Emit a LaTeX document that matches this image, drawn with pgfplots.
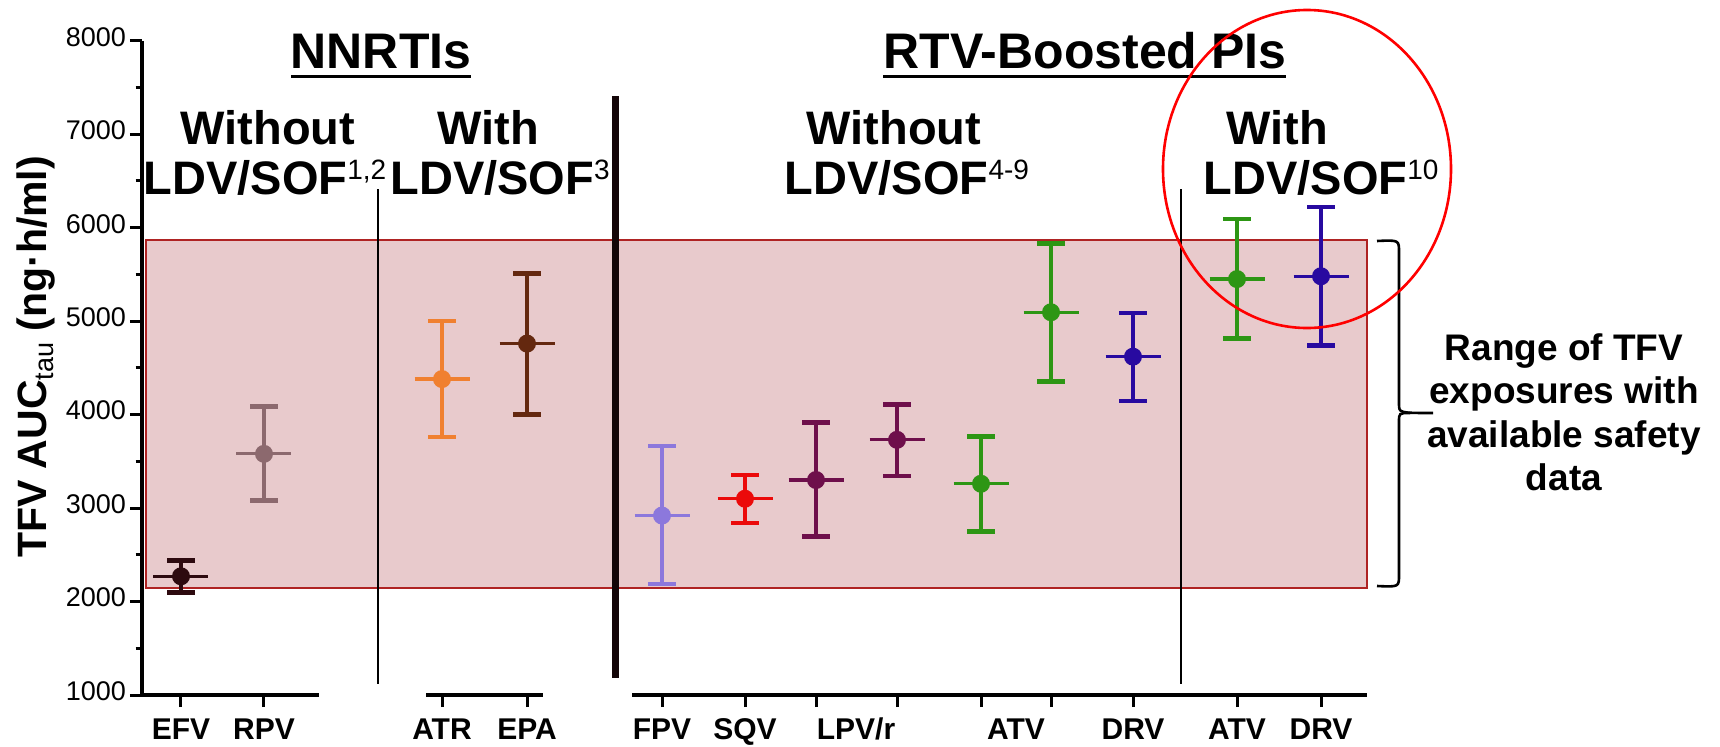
\documentclass[border=0pt]{standalone}
\usepackage{fontspec}
\setmainfont{Liberation Sans}
\usepackage{pgfplots}
\pgfplotsset{compat=1.18}

\definecolor{cEFV}{RGB}{45,10,15}
\definecolor{cRPV}{RGB}{140,105,110}
\definecolor{cATR}{RGB}{240,128,48}
\definecolor{cEPA}{RGB}{100,40,15}
\definecolor{cFPV}{RGB}{140,120,220}
\definecolor{cSQV}{RGB}{235,10,10}
\definecolor{cLPV}{RGB}{110,15,75}
\definecolor{cATV}{RGB}{45,150,20}
\definecolor{cDRV}{RGB}{40,10,160}
\definecolor{boxfill}{RGB}{232,202,204}
\definecolor{boxedge}{RGB}{175,35,35}
\definecolor{sep}{RGB}{20,6,8}

% mean marker: filled circle with a horizontal bar through it
\pgfdeclareplotmark{meanbar}{%
  \pgfpathmoveto{\pgfqpoint{-13.75pt}{0pt}}%
  \pgfpathlineto{\pgfqpoint{13.75pt}{0pt}}%
  \pgfusepathqstroke
  \pgfpathcircle{\pgfpointorigin}{4.5pt}%
  \pgfusepathqfill
}

\pgfplotsset{
  drug/.style={color=#1, only marks, mark=meanbar,
    mark options={line width=1.6pt, fill=#1, draw=#1},
    error bars/.cd, y dir=both, y explicit,
    error bar style={line width=1.6pt, #1},
    error mark=|,
    error mark options={line width=2.2pt, mark size=6.8pt, #1}}
}

\newcommand\sups[1]{\raisebox{7.5pt}{\mdseries\fontsize{14}{14}\selectfont #1}}

\begin{document}
\begin{tikzpicture}
% page frame (1 px = 0.5 pt)
\useasboundingbox (-71pt,-25.5pt) rectangle (789pt,347.5pt);

\begin{axis}[
  at={(0,0)}, anchor=south west,
  scale only axis, width=612.5pt, height=327.15pt,
  xmin=142, xmax=1367, ymin=1000, ymax=8000,
  axis lines=left,
  axis line style={-, line width=1.65pt, black},
  x axis line style={draw=none},
  clip=false,
  tick align=outside,
  major tick length=6pt, minor tick length=3.2pt,
  every tick/.style={black, line width=1.5pt},
  ytick={1000,2000,...,8000}, minor y tick num=1,
  xtick={181,264,442,527,662,745,816,897,981,1051,1133,1237,1321},
  xticklabels={EFV,RPV,ATR,EPA,FPV,SQV,,,,,DRV,ATV,DRV},
  extra x ticks={856,1016},
  extra x tick labels={LPV/r,ATV},
  extra x tick style={major tick length=0pt, xticklabel style={yshift=-6pt}},
  typeset ticklabels with strut,
  xticklabel style={font=\bfseries\fontsize{15}{15}\selectfont, yshift=-2pt},
  yticklabel style={font=\fontsize{13.5}{13.5}\selectfont, xshift=1.5pt},
  /pgf/number format/assume math mode=true,
  /pgf/number format/1000 sep={},
]
% range of exposures with available safety data
\fill[boxfill] (axis cs:146,2150) rectangle (axis cs:1367,5870);
\draw[boxedge, line width=1pt] (axis cs:146,2150) rectangle (axis cs:1367,5870);

% broken x axis
\draw[line width=1.65pt] (axis cs:142,1000) -- (axis cs:319,1000);
\draw[line width=1.65pt] (axis cs:426,1000) -- (axis cs:543,1000);
\draw[line width=1.65pt] (axis cs:632,1000) -- (axis cs:1367,1000);

% group separators
\draw[sep, line width=3.5pt] (axis cs:615,1182) -- (axis cs:615,7412);
\draw[black, line width=1pt] (axis cs:378,1118) -- (axis cs:378,6417);
\draw[black, line width=1pt] (axis cs:1181,1118) -- (axis cs:1181,6414);

% NNRTIs
\addplot[drug=cEFV] coordinates {(181,2270) += (0,170) -= (0,175)};
\addplot[drug=cRPV] coordinates {(264,3580) += (0,505) -= (0,500)};
\addplot[drug=cATR] coordinates {(442,4380) += (0,620) -= (0,620)};
\addplot[drug=cEPA] coordinates {(527,4760) += (0,750) -= (0,760)};
% RTV-boosted PIs
\addplot[drug=cFPV] coordinates {(662,2920) += (0,745) -= (0,735)};
\addplot[drug=cSQV] coordinates {(745,3100) += (0,255) -= (0,260)};
\addplot[drug=cLPV] coordinates {(816,3300) += (0,615) -= (0,605)};
\addplot[drug=cLPV] coordinates {(897,3730) += (0,380) -= (0,385)};
\addplot[drug=cATV] coordinates {(981,3260) += (0,505) -= (0,510)};
\addplot[drug=cATV] coordinates {(1051,5095) += (0,735) -= (0,740)};
\addplot[drug=cDRV] coordinates {(1133,4620) += (0,470) -= (0,475)};
\addplot[drug=cATV] coordinates {(1237,5450) += (0,645) -= (0,635)};
\addplot[drug=cDRV] coordinates {(1321,5480) += (0,740) -= (0,740)};
\end{axis}

% annotations in pixel units
\begin{scope}[x=0.5pt, y=-0.5pt, shift={(-71pt,347.5pt)}]
\node[rotate=90, anchor=base, font=\bfseries\fontsize{20.5}{20.5}\selectfont]
  at (47,357) {TFV AUC\raisebox{-3.5pt}{\mdseries\fontsize{13.5}{13.5}\selectfont tau} (ng·h/ml)};

\begin{scope}[every node/.style={anchor=base, inner sep=0pt}]
\node[font=\bfseries\fontsize{25}{25}\selectfont] at (381,69) {NNRTIs};
\node[font=\bfseries\fontsize{25}{25}\selectfont] at (1085,69) {RTV-Boosted PIs};
\draw[line width=1.5pt] (291,76.5) -- (471,76.5);
\draw[line width=1.5pt] (883,76.5) -- (1286,76.5);

\node[font=\bfseries\fontsize{23.5}{23.5}\selectfont] at (268,144) {Without};
\node[font=\bfseries\fontsize{23.5}{23.5}\selectfont] at (265,194) {LDV/SOF\sups{1,2}};
\node[font=\bfseries\fontsize{23.5}{23.5}\selectfont] at (488,144) {With};
\node[font=\bfseries\fontsize{23.5}{23.5}\selectfont] at (500,194) {LDV/SOF\sups{3}};
\node[font=\bfseries\fontsize{23.5}{23.5}\selectfont] at (894,144) {Without};
\node[font=\bfseries\fontsize{23.5}{23.5}\selectfont] at (907,194) {LDV/SOF\sups{4-9}};
\node[font=\bfseries\fontsize{23.5}{23.5}\selectfont] at (1277,144) {With};
\node[font=\bfseries\fontsize{23.5}{23.5}\selectfont] at (1321,194) {LDV/SOF\sups{10}};

\node[font=\bfseries\fontsize{18.5}{18.5}\selectfont] at (1564,360) {Range of TFV};
\node[font=\bfseries\fontsize{18.5}{18.5}\selectfont] at (1564,403) {exposures with};
\node[font=\bfseries\fontsize{18.5}{18.5}\selectfont] at (1564,447) {available safety};
\node[font=\bfseries\fontsize{18.5}{18.5}\selectfont] at (1564,490) {data};
\end{scope}

% bracket spanning the shaded range
\draw[line width=1.3pt] (1377,241) .. controls (1399,240) .. (1399,252) -- (1399,404)
  .. controls (1399,413) .. (1433,413);
\draw[line width=1.3pt] (1377,586) .. controls (1399,587) .. (1399,575) -- (1399,422)
  .. controls (1399,413) .. (1410,413);

% highlight ellipse
\draw[red, line width=1.3pt] (1307,169) ellipse [x radius=72pt, y radius=79.5pt];
\end{scope}
\end{tikzpicture}
\end{document}
